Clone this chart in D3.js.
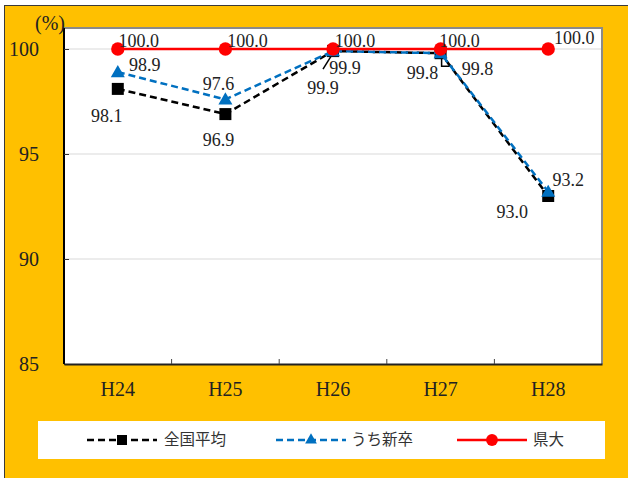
<!DOCTYPE html>
<html>
<head>
<meta charset="utf-8">
<script src="https://cdn.jsdelivr.net/npm/d3@7"></script>
<style>
  html, body { margin: 0; padding: 0; background: #fff; }
  svg { display: block; }
</style>
</head>
<body>
<svg id="chart" width="628" height="478"></svg>
<script>
// Employment rate (%) by fiscal year
const years = ["H24", "H25", "H26", "H27", "H28"];
const nationalAvg = [98.1, 96.9, 99.9, 99.8, 93.0];   // 全国平均
const newGrads = [98.9, 97.6, 99.9, 99.8, 93.2];      // うち新卒
const prefUniv = [100.0, 100.0, 100.0, 100.0, 100.0]; // 県大
const yTicks = [85, 90, 95, 100];
const seriesNames = ["全国平均", "うち新卒", "県大"];

// Label placement relative to each point (text centre)
const nationalLabelOffsets = [[-11, 27], [-7, 26], [-10, 37], [-18, 19], [-36, 16]];
const newGradLabelOffsets = [[27, -7], [-7, -16], [12, 17], [37, 15], [20, -12]];
const prefLabelOffsets = [[21, -8], [22, -8], [22, -8], [19, -8], [26, -11]];

const svg = d3.select("#chart");
const W = 628, H = 478;
const plot = { left: 64, right: 602, top: 28, bottom: 364 };

// Outer chart area
svg.append("rect").attr("x", 4.5).attr("y", 5.5).attr("width", W).attr("height", H)
  .attr("fill", "#FFC000").attr("stroke", "#3a3a3a").attr("stroke-width", 1);

const x = d3.scaleBand().domain(years).range([plot.left, plot.right]).padding(0);
const y = d3.scaleLinear().domain([85, 101]).range([plot.bottom, plot.top]);
const cx = d => x(d) + x.bandwidth() / 2;

// Plot area
svg.append("rect").attr("x", plot.left).attr("y", plot.top)
  .attr("width", plot.right - plot.left).attr("height", plot.bottom - plot.top)
  .attr("fill", "#fff");

// Gridlines
svg.append("g").selectAll("line").data(yTicks.filter(t => t > 85)).join("line")
  .attr("x1", plot.left).attr("x2", plot.right)
  .attr("y1", d => y(d)).attr("y2", d => y(d))
  .attr("stroke", "#d9d9d9").attr("stroke-width", 1);

// Frame: grey top / right
svg.append("path")
  .attr("d", `M${plot.left},${plot.top} H${plot.right} V${plot.bottom}`)
  .attr("fill", "none").attr("stroke", "#8a8a8a").attr("stroke-width", 2);

// Y axis
const yAxis = d3.axisLeft(y).tickValues(yTicks).tickSize(-5).tickPadding(25);
const gy = svg.append("g").attr("transform", `translate(${plot.left},0)`).call(yAxis);
gy.select(".domain").attr("stroke", "#000").attr("stroke-width", 2)
  .attr("d", `M0,${plot.top}V${plot.bottom}`);
gy.selectAll(".tick line").attr("stroke", "#333");
gy.selectAll(".tick text")
  .attr("font-family", "Liberation Serif, serif").attr("font-size", 20)
  .attr("fill", "#222").attr("dy", "0.33em").attr("x", -25).attr("text-anchor", "end");

// X axis
const xAxis = d3.axisBottom(x).tickSize(0).tickPadding(18);
const gx = svg.append("g").attr("transform", `translate(0,${plot.bottom})`).call(xAxis);
gx.select(".domain").attr("stroke", "#222").attr("stroke-width", 2);
gx.selectAll(".tick text")
  .attr("font-family", "Liberation Serif, serif").attr("font-size", 20).attr("fill", "#222");
// category boundary ticks (inside)
svg.append("g").selectAll("line").data(years.slice(1)).join("line")
  .attr("x1", d => x(d)).attr("x2", d => x(d))
  .attr("y1", plot.bottom).attr("y2", plot.bottom - 5)
  .attr("stroke", "#444").attr("stroke-width", 1);

// Unit label
svg.append("text").attr("x", 50).attr("y", 30).attr("text-anchor", "middle")
  .attr("font-family", "Liberation Serif, serif").attr("font-size", 20).attr("fill", "#222")
  .text("(%)");

const line = d3.line().x(d => cx(d[0])).y(d => y(d[1]));
const pts = vals => years.map((yr, i) => [yr, vals[i]]);

const series = [
  { name: seriesNames[0], vals: nationalAvg, color: "#000000", dash: "7,4", marker: "square", offs: nationalLabelOffsets },
  { name: seriesNames[1], vals: newGrads, color: "#0070C0", dash: "7,4", marker: "triangle", offs: newGradLabelOffsets },
  { name: seriesNames[2], vals: prefUniv, color: "#FF0000", dash: null, marker: "circle", offs: prefLabelOffsets }
];

const symbolOf = m => m === "square" ? d3.symbol(d3.symbolSquare, 144)
  : m === "triangle" ? d3.symbol(d3.symbolTriangle, 85)
  : d3.symbol(d3.symbolCircle, 140);

// Leader lines from labels to points
const leaderG = svg.append("g");
{
  const px = cx(years[2]), py = y(nationalAvg[2]);
  leaderG.append("path").attr("d", `M${px - 10},${py + 18} L${px},${py + 2}`)
    .attr("stroke", "#000").attr("stroke-width", 1.5).attr("fill", "none");
  const qx = cx(years[3]), qy = y(newGrads[3]);
  leaderG.append("path").attr("d", `M${qx + 1},${qy} V${qy + 13} H${qx + 12}`)
    .attr("stroke", "#000").attr("stroke-width", 1.5).attr("fill", "none");
}

series.forEach(s => {
  const g = svg.append("g");
  g.append("path").datum(pts(s.vals)).attr("d", line)
    .attr("fill", "none").attr("stroke", s.color).attr("stroke-width", 2.5)
    .attr("stroke-dasharray", s.dash);
  g.selectAll("path.m").data(pts(s.vals)).join("path").attr("class", "m")
    .attr("transform", d => `translate(${cx(d[0])},${y(d[1]) + (s.marker === "triangle" ? 1 : 0)})`)
    .attr("d", symbolOf(s.marker)).attr("fill", s.color);
});

// Data labels
series.forEach(s => {
  svg.append("g").selectAll("text").data(pts(s.vals)).join("text")
    .attr("x", (d, i) => cx(d[0]) + s.offs[i][0])
    .attr("y", (d, i) => y(d[1]) + s.offs[i][1])
    .attr("dy", "0.35em").attr("text-anchor", "middle")
    .attr("font-family", "Liberation Serif, serif").attr("font-size", 18).attr("fill", "#222")
    .text(d => d[1].toFixed(1));
});

// Legend
const lg = svg.append("g");
lg.append("rect").attr("x", 38).attr("y", 421).attr("width", 567).attr("height", 38).attr("fill", "#fff");
const legendItems = [
  { s: series[0], x0: 87, x1: 157, tx: 164 },
  { s: series[1], x0: 276, x1: 346, tx: 351 },
  { s: series[2], x0: 457, x1: 527, tx: 533 }
];
const ly = 440;
legendItems.forEach(it => {
  lg.append("line").attr("x1", it.x0).attr("x2", it.x1).attr("y1", ly).attr("y2", ly)
    .attr("stroke", it.s.color).attr("stroke-width", 2.5).attr("stroke-dasharray", it.s.dash);
  const m = it.s.marker;
  lg.append("path").attr("transform", `translate(${(it.x0 + it.x1) / 2},${ly})`)
    .attr("d", (m === "square" ? d3.symbol(d3.symbolSquare, 100)
      : m === "triangle" ? d3.symbol(d3.symbolTriangle, 60)
      : d3.symbol(d3.symbolCircle, 110))())
    .attr("fill", it.s.color);
  lg.append("text").attr("x", it.tx).attr("y", ly).attr("dy", "0.35em")
    .attr("font-family", "Noto Sans CJK JP, sans-serif").attr("font-size", 15.5)
    .attr("fill", "#333").text(it.s.name);
});
</script>
</body>
</html>
